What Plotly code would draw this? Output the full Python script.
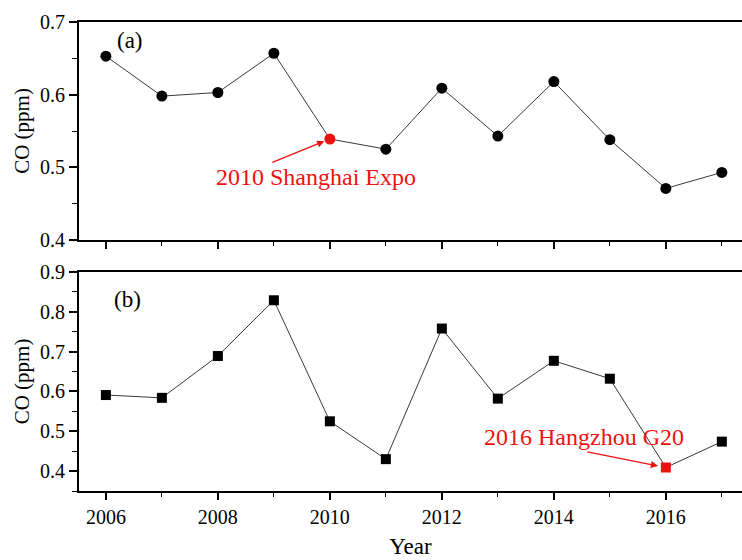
import plotly.graph_objects as go

# Annual mean CO concentrations (ppm)
years = [2006, 2007, 2008, 2009, 2010, 2011, 2012, 2013, 2014, 2015, 2016, 2017]
co_a = [0.653, 0.598, 0.603, 0.657, 0.539, 0.525, 0.609, 0.543, 0.618, 0.538, 0.471, 0.493]
co_b = [0.591, 0.584, 0.689, 0.829, 0.525, 0.430, 0.758, 0.582, 0.677, 0.632, 0.409, 0.474]

event_a_year = 2010
event_a_text = "2010 Shanghai Expo"
event_b_year = 2016
event_b_text = "2016 Hangzhou G20"

panel_labels = ["(a)", "(b)"]
x_ticks = [2006, 2008, 2010, 2012, 2014, 2016]

FONT = "Times New Roman, Liberation Serif, serif"
RED = "#ee1111"


def point_colors(yrs, highlight):
    return [RED if y == highlight else "black" for y in yrs]


fig = go.Figure()

fig.add_trace(go.Scatter(
    x=years, y=co_a, mode="lines+markers", xaxis="x", yaxis="y",
    line=dict(color="#222222", width=0.9),
    marker=dict(symbol="circle", size=11, color=point_colors(years, event_a_year)),
    showlegend=False,
))
fig.add_trace(go.Scatter(
    x=years, y=co_b, mode="lines+markers", xaxis="x2", yaxis="y2",
    line=dict(color="#222222", width=0.9),
    marker=dict(symbol="square", size=10, color=point_colors(years, event_b_year)),
    showlegend=False,
))

x_left = 79 / 742
x_range = [2005.52, 2017.36]

common_x = dict(
    range=x_range, showgrid=False, zeroline=False,
    showline=True, linecolor="black", linewidth=1.8, mirror=True,
    tickmode="array", tickvals=x_ticks,
    ticks="outside", ticklen=7, tickwidth=1.5, tickcolor="black",
    minor=dict(dtick=1, tick0=2005, ticks="outside", ticklen=4, tickwidth=1.2, tickcolor="black"),
    tickfont=dict(family=FONT, size=20, color="black"),
)
common_y = dict(
    showgrid=False, zeroline=False,
    showline=True, linecolor="black", linewidth=1.8, mirror=False,
    dtick=0.1, tickformat=".1f",
    ticks="outside", ticklen=8, tickwidth=1.5, tickcolor="black",
    minor=dict(dtick=0.05, ticks="outside", ticklen=5, tickwidth=1.2, tickcolor="black"),
    tickfont=dict(family=FONT, size=20, color="black"),
    automargin=False,
)

fig.update_layout(
    width=742, height=560,
    margin=dict(l=0, r=0, t=0, b=0),
    paper_bgcolor="white", plot_bgcolor="white",
    xaxis=dict(common_x, domain=[x_left, 1.0], anchor="y", showticklabels=False),
    yaxis=dict(common_y, domain=[1 - 240 / 560, 1 - 22 / 560], anchor="x",
               range=[0.4, 0.7], tick0=0.4,
               title=dict(text="CO (ppm)", font=dict(family=FONT, size=21, color="black"), standoff=5)),
    xaxis2=dict(common_x, domain=[x_left, 1.0], anchor="y2", showticklabels=True,
                title=dict(text="Year", font=dict(family=FONT, size=23, color="black"), standoff=11)),
    yaxis2=dict(common_y, domain=[1 - 491 / 560, 1 - 272 / 560], anchor="x2",
                range=[0.35, 0.9], tick0=0.4,
                title=dict(text="CO (ppm)", font=dict(family=FONT, size=21, color="black"), standoff=5)),
)

ia = years.index(event_a_year)
ib = years.index(event_b_year)

annotations = [
    # panel labels
    dict(x=2006.43, y=0.674, xref="x", yref="y", text=panel_labels[0], showarrow=False,
         font=dict(family=FONT, size=23, color="black")),
    dict(x=2006.39, y=0.831, xref="x2", yref="y2", text=panel_labels[1], showarrow=False,
         font=dict(family=FONT, size=23, color="black")),
    # event labels
    dict(x=2009.75, y=0.487, xref="x", yref="y", text=event_a_text, showarrow=False,
         font=dict(family=FONT, size=24, color=RED)),
    dict(x=2014.54, y=0.486, xref="x2", yref="y2", text=event_b_text, showarrow=False,
         font=dict(family=FONT, size=24, color=RED)),
    # arrows pointing at the highlighted points
    dict(x=years[ia], y=co_a[ia], xref="x", yref="y", text="", showarrow=True,
         ax=-59, ay=24, arrowhead=2, arrowsize=1.1, arrowwidth=1.3, arrowcolor=RED, standoff=6),
    dict(x=years[ib], y=co_b[ib], xref="x2", yref="y2", text="", showarrow=True,
         ax=-80, ay=-16, arrowhead=2, arrowsize=1.1, arrowwidth=1.3, arrowcolor=RED, standoff=8),
]
fig.update_layout(annotations=annotations)

fig.write_html("out.html")
